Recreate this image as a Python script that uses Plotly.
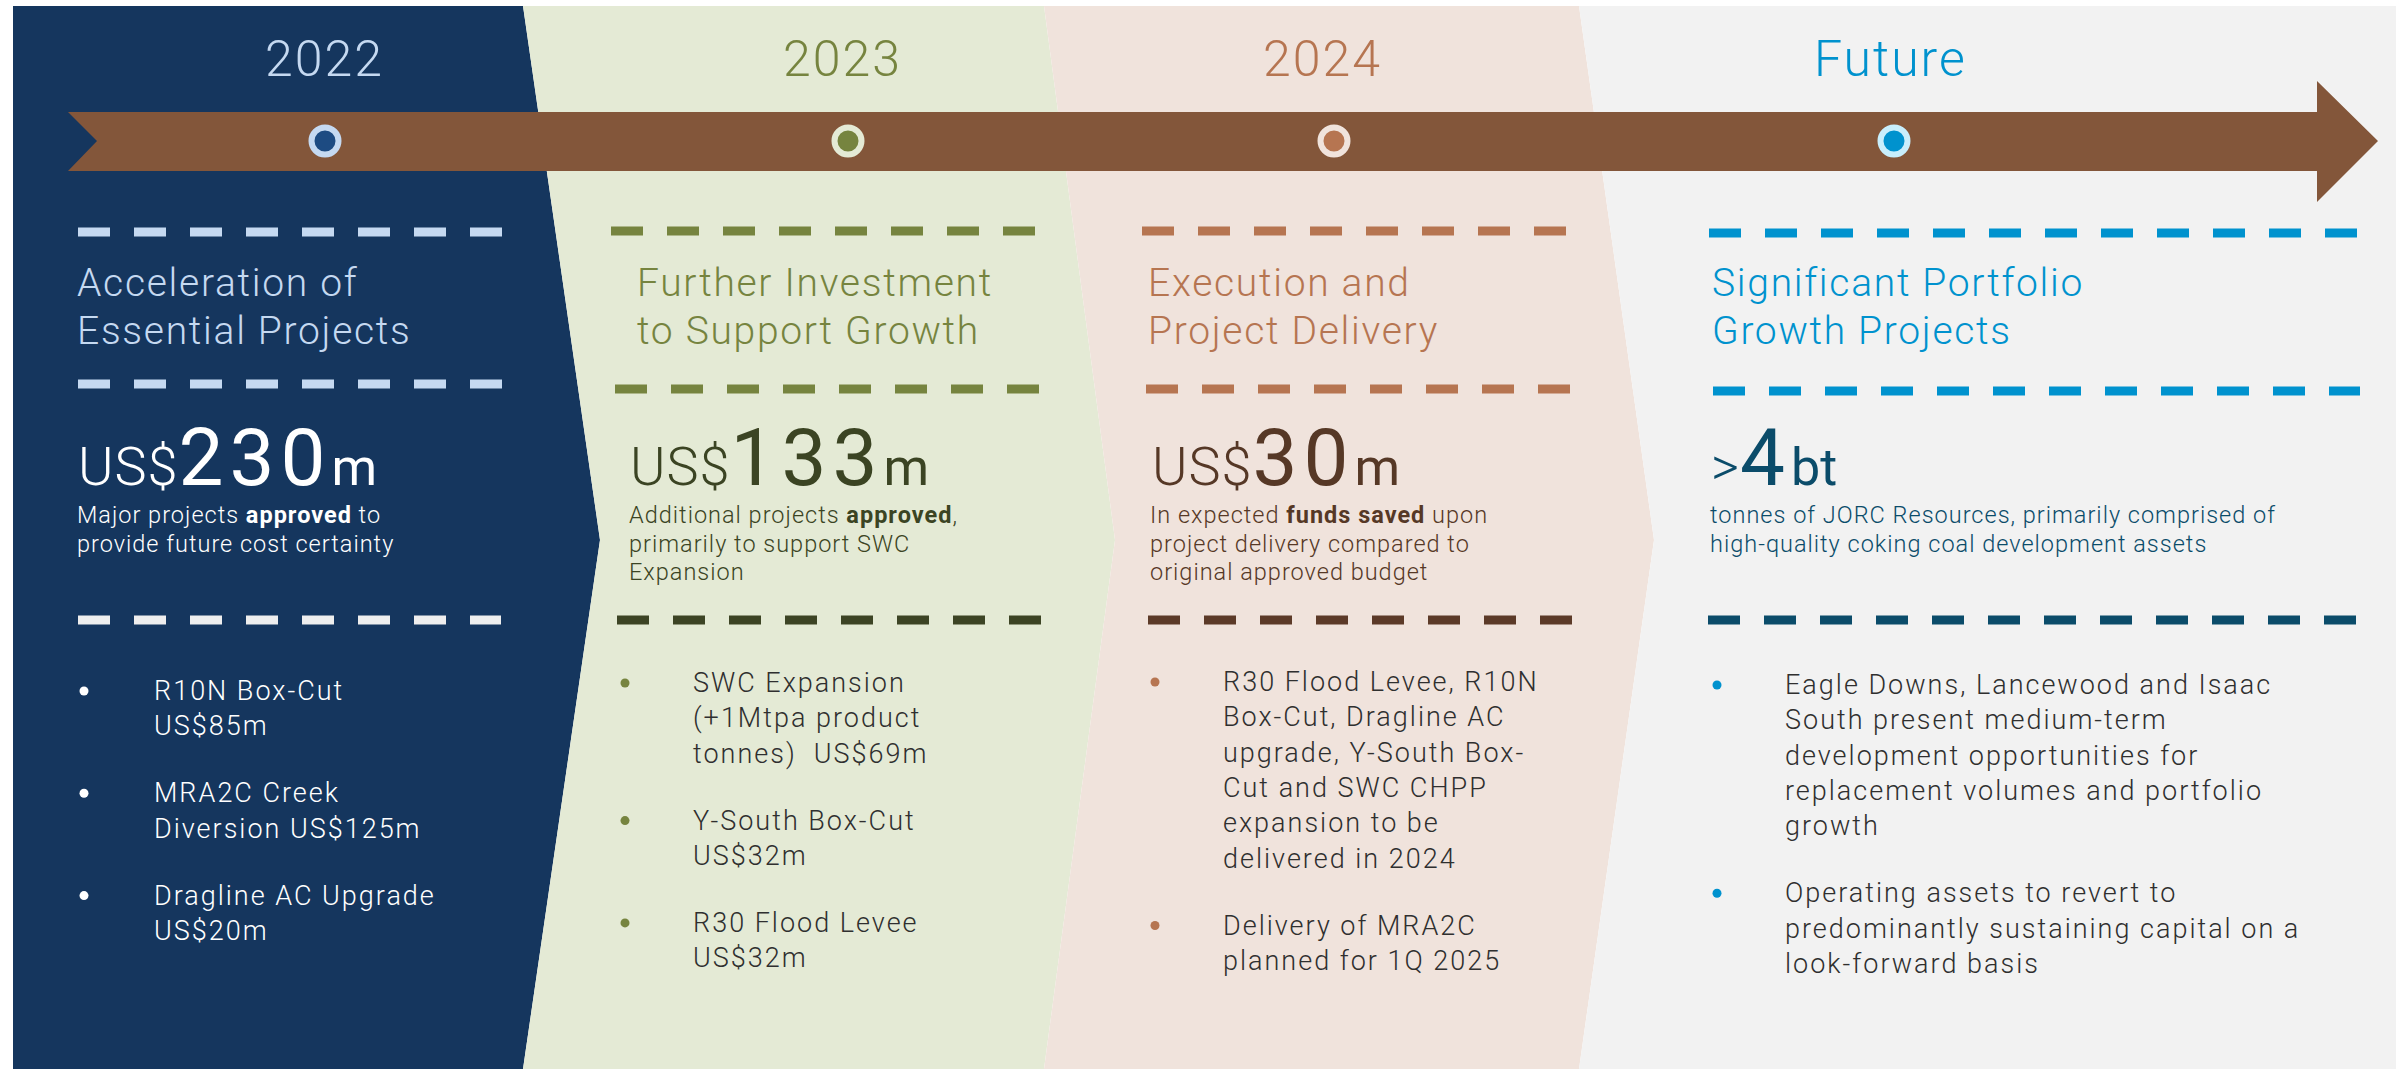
import plotly.graph_objects as go

W, H = 2396, 1069

# ---------------- data ----------------
periods = ["2022", "2023", "2024", "Future"]
headings = [
    ["Acceleration of", "Essential Projects"],
    ["Further Investment", "to Support Growth"],
    ["Execution and", "Project Delivery"],
    ["Significant Portfolio", "Growth Projects"],
]
amount_prefix = ["US$", "US$", "US$", ">"]
amount_value = ["230", "133", "30", "4"]
amount_unit = ["m", "m", "m", "bt"]
descriptions = [
    ["Major projects <b>approved</b> to", "provide future cost certainty"],
    ["Additional projects <b>approved</b>,", "primarily to support SWC", "Expansion"],
    ["In expected <b>funds saved</b> upon", "project delivery compared to", "original approved budget"],
    ["tonnes of JORC Resources, primarily comprised of", "high-quality coking coal development assets"],
]
bullets = [
    [["R10N Box-Cut", "US$85m"], ["MRA2C Creek", "Diversion US$125m"], ["Dragline AC Upgrade", "US$20m"]],
    [["SWC Expansion", "(+1Mtpa product", "tonnes)  US$69m"], ["Y-South Box-Cut", "US$32m"], ["R30 Flood Levee", "US$32m"]],
    [["R30 Flood Levee, R10N", "Box-Cut, Dragline AC", "upgrade, Y-South Box-", "Cut and SWC CHPP",
      "expansion to be", "delivered in 2024"], ["Delivery of MRA2C", "planned for 1Q 2025"]],
    [["Eagle Downs, Lancewood and Isaac", "South present medium-term", "development opportunities for",
      "replacement volumes and portfolio", "growth"],
     ["Operating assets to revert to", "predominantly sustaining capital on a", "look-forward basis"]],
]

# ---------------- layout / style config ----------------
FONT = "Roboto"
ARROW = "#83563A"
panel_bg = ["#15365E", "#E4EAD5", "#F0E3DC", "#F2F2F2"]
panel_paths = [
    "M 13 6 L 523 6 L 600 540 L 523 1069 L 13 1069 Z",
    "M 523 6 L 1044 6 L 1115 540 L 1044 1069 L 523 1069 L 600 540 Z",
    "M 1044 6 L 1579 6 L 1654 540 L 1579 1069 L 1044 1069 L 1115 540 Z",
    "M 1579 6 L 2396 6 L 2396 1069 L 1579 1069 L 1654 540 Z",
]
arrow_path = "M 68 112 L 2317 112 L 2317 81 L 2378 141 L 2317 202 L 2317 171 L 68 171 L 97 141 Z"

accent = ["#C5D9F1", "#76843F", "#B67551", "#0092CE"]     # year, heading, dash rows 1-2
ring = ["#C5D9F1", "#E4EAD5", "#F0E3DC", "#C8EEFC"]
core = ["#1D4B82", "#76843F", "#B67551", "#0092CE"]
strong = ["#FFFFFF", "#3B4423", "#563826", "#0B4C6A"]     # big number, desc
dash3 = ["#EEEEEE", "#3C4424", "#5C3A28", "#0B4C6A"]
dot_col = ["#FFFFFF", "#76843F", "#B67551", "#0092CE"]
btext_col = ["#FFFFFF", "#2F2F2F", "#2F2F2F", "#2F2F2F"]

year_x = [324, 842, 1322, 1890]
marker_x = [325, 848, 1334, 1894]
text_x = [75, 635, 1146, 1710]
big_x = [76, 628, 1150, 1709]
desc_x = [75, 627, 1148, 1708]
dot_x = [84, 625, 1155, 1717]
btext_x = [152, 691, 1221, 1783]
bullet_y0 = [691, 683, 682, 685]
dash_rows = [
    [(78, 502, 232), (78, 502, 384), (78, 501, 620)],
    [(611, 1035, 231), (615, 1039, 389), (617, 1041, 620)],
    [(1142, 1567, 231), (1146, 1570, 389), (1148, 1572, 620)],
    [(1709, 2357, 233), (1713, 2360, 391), (1708, 2357, 620)],
]
LINE = 35.3
ITEM_GAP = 67


def spaced(txt, ls):
    return f'<span style="letter-spacing:{ls}px">{txt}</span>'


fig = go.Figure()
shapes = []
ann = []

for i in range(4):
    shapes.append(dict(type="path", path=panel_paths[i], fillcolor=panel_bg[i],
                       line=dict(width=0), layer="below", xref="x", yref="y"))
shapes.append(dict(type="path", path=arrow_path, fillcolor=ARROW, line=dict(width=0),
                   layer="below", xref="x", yref="y"))

for i in range(4):
    # dashes
    for r, (x0, x1, y) in enumerate(dash_rows[i]):
        shapes.append(dict(type="line", x0=x0, x1=x1, y0=y, y1=y, xref="x", yref="y", layer="below",
                           line=dict(color=accent[i] if r < 2 else dash3[i], width=9, dash="32px,24px")))
    # year
    ann.append(dict(x=year_x[i], y=59, text=spaced(periods[i], 2), showarrow=False, xanchor="center",
                    yanchor="middle", font=dict(family=FONT, size=50, color=accent[i], weight=300)))
    # heading
    for k, line in enumerate(headings[i]):
        ann.append(dict(x=text_x[i], y=283 + 48 * k, text=spaced(line, 1.7), showarrow=False, xanchor="left",
                        yanchor="middle", font=dict(family=FONT, size=39, color=accent[i], weight=300)))
    # big number
    big = (f'<span style="letter-spacing:1px">{amount_prefix[i]}</span>'
           f'<span style="font-size:80px;font-weight:400;letter-spacing:6px">{amount_value[i]}</span>'
           f'<span style="font-size:52px;font-weight:400">{amount_unit[i]}</span>')
    ann.append(dict(x=big_x[i], y=458, text=big, showarrow=False, xanchor="left", yanchor="middle",
                    font=dict(family=FONT, size=54, color=strong[i], weight=300)))
    # description
    for k, line in enumerate(descriptions[i]):
        ann.append(dict(x=desc_x[i], y=515 + 28.5 * k, text=spaced(line, 1.0), showarrow=False,
                        xanchor="left", yanchor="middle",
                        font=dict(family=FONT, size=23.5, color=strong[i], weight=300)))
    # bullets
    y = bullet_y0[i]
    dx, dy = [], []
    for item in bullets[i]:
        dx.append(dot_x[i])
        dy.append(y)
        for line in item:
            ann.append(dict(x=btext_x[i], y=y, text=spaced(line, 2.0), showarrow=False, xanchor="left",
                            yanchor="middle", font=dict(family=FONT, size=27, color=btext_col[i], weight=300)))
            y += LINE
        y += ITEM_GAP - LINE
    fig.add_trace(go.Scatter(x=dx, y=dy, mode="markers", hoverinfo="skip", showlegend=False,
                             marker=dict(size=9, color=dot_col[i], line=dict(width=0))))

# timeline markers
fig.add_trace(go.Scatter(x=marker_x, y=[141] * 4, mode="markers", hoverinfo="skip", showlegend=False,
                         marker=dict(size=27, color=core, line=dict(width=6, color=ring))))

fig.update_layout(
    width=W, height=H, margin=dict(l=0, r=0, t=0, b=0),
    paper_bgcolor="white", plot_bgcolor="white",
    xaxis=dict(range=[0, W], visible=False, fixedrange=True),
    yaxis=dict(range=[H, 0], visible=False, fixedrange=True),
    shapes=shapes, annotations=ann, showlegend=False,
)

fig.write_html("out.html", include_plotlyjs=True, full_html=True,
               config={"displayModeBar": False, "staticPlot": True},
               post_script="document.body.style.margin='0';document.body.style.overflow='hidden';")
